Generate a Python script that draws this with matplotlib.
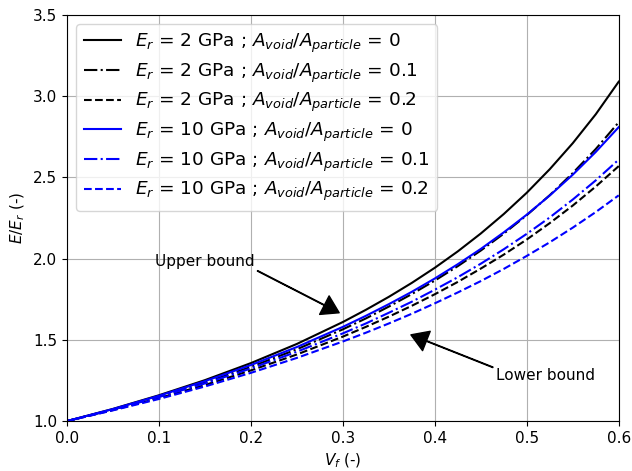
import numpy as np
import matplotlib
matplotlib.use("Agg")
import matplotlib.pyplot as plt

# fibre volume fraction
vf = [0.0, 0.05, 0.1, 0.15, 0.2, 0.25, 0.3, 0.325, 0.35, 0.375, 0.4,
      0.425, 0.45, 0.475, 0.5, 0.525, 0.55, 0.575, 0.6]

# E/E_r
e2_void0 = [1.000, 1.075, 1.159, 1.252, 1.357, 1.475, 1.610, 1.685, 1.765, 1.851,
            1.944, 2.045, 2.155, 2.275, 2.406, 2.551, 2.711, 2.889, 3.090]
e2_void01 = [1.000, 1.071, 1.150, 1.237, 1.334, 1.442, 1.565, 1.632, 1.705, 1.782,
             1.865, 1.954, 2.050, 2.154, 2.268, 2.391, 2.527, 2.675, 2.840]
e2_void02 = [1.000, 1.068, 1.141, 1.222, 1.312, 1.410, 1.520, 1.580, 1.643, 1.710,
             1.781, 1.857, 1.939, 2.025, 2.118, 2.219, 2.327, 2.444, 2.570]
e10_void0 = [1.000, 1.074, 1.156, 1.246, 1.345, 1.456, 1.580, 1.648, 1.720, 1.796,
             1.878, 1.966, 2.060, 2.162, 2.271, 2.389, 2.517, 2.657, 2.810]
e10_void01 = [1.000, 1.071, 1.148, 1.232, 1.324, 1.427, 1.540, 1.601, 1.667, 1.735,
              1.809, 1.886, 1.969, 2.058, 2.153, 2.254, 2.364, 2.482, 2.610]
e10_void02 = [1.000, 1.066, 1.136, 1.213, 1.297, 1.389, 1.490, 1.544, 1.601, 1.661,
              1.725, 1.792, 1.862, 1.937, 2.017, 2.101, 2.191, 2.287, 2.390]

plt.rcParams['font.size'] = 11

fig = plt.figure(figsize=(6.32, 4.71), dpi=100)
ax = fig.add_subplot(111)
fig.subplots_adjust(left=0.106, right=0.979, top=0.968, bottom=0.106)

lab = r"$E_r$ = %s GPa ; $A_{void}/A_{particle}$ = %s"
ax.plot(vf, e2_void0, 'k-', lw=1.5, label=lab % ("2", "0"))
ax.plot(vf, e2_void01, 'k-.', lw=1.5, label=lab % ("2", "0.1"))
ax.plot(vf, e2_void02, 'k--', lw=1.5, label=lab % ("2", "0.2"))
ax.plot(vf, e10_void0, 'b-', lw=1.5, label=lab % ("10", "0"))
ax.plot(vf, e10_void01, 'b-.', lw=1.5, label=lab % ("10", "0.1"))
ax.plot(vf, e10_void02, 'b--', lw=1.5, label=lab % ("10", "0.2"))

ax.annotate("Upper bound", xy=(0.296, 1.667), xytext=(0.15, 1.98),
            ha='center', va='center', fontsize=11,
            arrowprops=dict(facecolor='black', width=0.4, headwidth=15,
                            headlength=12, shrink=0.0))
ax.annotate("Lower bound", xy=(0.374, 1.531), xytext=(0.52, 1.278),
            ha='center', va='center', fontsize=11,
            arrowprops=dict(facecolor='black', width=0.4, headwidth=15,
                            headlength=12, shrink=0.0))

ax.set_xlim(0, 0.6)
ax.set_ylim(1.0, 3.5)
ax.set_xlabel(r"$V_f$ (-)")
ax.set_ylabel(r"$E/E_r$ (-)")
ax.grid(True)
ax.legend(loc='upper left', fontsize=13.3, labelspacing=0.35)
fig.savefig("out.png", dpi=100)
